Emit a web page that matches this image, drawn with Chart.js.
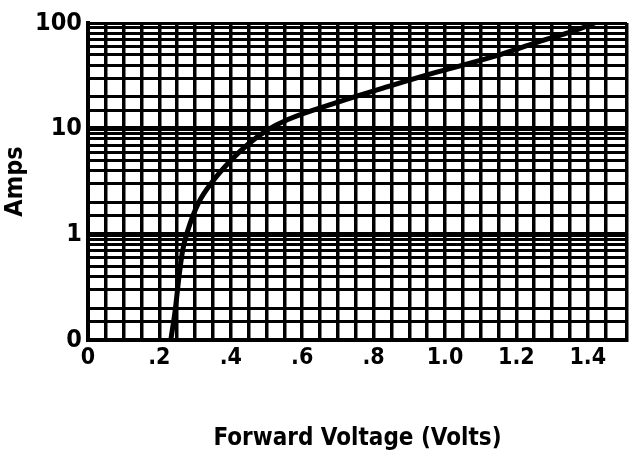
<!DOCTYPE html>
<html>
<head>
<meta charset="utf-8">
<script src="https://cdn.jsdelivr.net/npm/chart.js@4"></script>
<style>
  html, body { margin: 0; padding: 0; background: #fff; }
  #wrap { width: 631px; height: 455px; }
</style>
</head>
<body>
<div id="wrap"><canvas id="diodeChart" width="631" height="455"></canvas></div>
<script>
'use strict'

//++++++++++++++ Data ++++++++++++++//
let voltValues = [0.232, 0.245, 0.255, 0.265, 0.28, 0.31, 0.35, 0.40, 0.45, 0.50, 0.56, 0.70, 0.84, 0.96, 1.14, 1.26, 1.36, 1.42];
let ampValues = [0.1, 0.2, 0.4, 0.7, 1.1, 2.0, 3.2, 5.0, 7.2, 9.6, 12.2, 17.8, 25, 33, 48.6, 66, 84, 100];

let xLabelValues = [0, 0.2, 0.4, 0.6, 0.8, 1.0, 1.2, 1.4];
let xLabelTexts = ['0', '.2', '.4', '.6', '.8', '1.0', '1.2', '1.4'];

let yLabelValues = [0.1, 1, 10, 100];
let yLabelTexts = ['0', '1', '10', '100'];
let yGridSteps = [1, 1.5, 2, 3, 4, 5, 6, 7, 8, 9];

let fontStack = "'Liberation Sans Narrow', 'DejaVu Sans Condensed', 'Liberation Sans', sans-serif";

//++++++++++++++ Helpers ++++++++++++++//
function labelFor(values, texts, v) {
  for (let i = 0; i < values.length; i++) {
    if (Math.abs(values[i] - v) < 1e-6) return texts[i];
  }
  return '';
}

function buildYTicks() {
  let ticks = [];
  [0.1, 1, 10].forEach(decade => {
    yGridSteps.forEach(s => ticks.push({ value: +(decade * s).toPrecision(4) }));
  });
  ticks.push({ value: 100 });
  return ticks;
}

let points = voltValues.map((v, i) => ({ x: v, y: ampValues[i] }));

//++++++++++++++ Chart ++++++++++++++//
const ctx = document.getElementById('diodeChart').getContext('2d');
const diodeChart = new Chart(ctx, {
  type: 'line',
  data: {
    datasets: [{
      data: points,
      borderColor: '#000',
      borderWidth: 5,
      pointRadius: 0,
      cubicInterpolationMode: 'monotone',
      fill: false
    }]
  },
  options: {
    responsive: false,
    animation: false,
    layout: { padding: { top: 23, right: 0, left: 0, bottom: 0 } },
    plugins: { legend: { display: false }, tooltip: { enabled: false } },
    scales: {
      x: {
        type: 'linear',
        min: 0,
        max: 1.51,
        afterFit: scale => { scale.height = 115; },
        ticks: {
          stepSize: 0.05,
          autoSkip: false,
          maxRotation: 0,
          padding: 4,
          color: '#000',
          font: { family: fontStack, size: 23, weight: 'bold' },
          callback: value => labelFor(xLabelValues, xLabelTexts, value)
        },
        grid: { color: '#000', lineWidth: 3.5, drawTicks: false },
        border: { color: '#000', width: 4 },
        title: {
          display: true,
          text: 'Forward Voltage (Volts)',
          color: '#000',
          font: { family: fontStack, size: 24, weight: 'bold' },
          padding: { top: 0, bottom: 2 }
        }
      },
      y: {
        type: 'logarithmic',
        min: 0.1,
        max: 100,
        afterFit: scale => { scale.width = 88; },
        afterBuildTicks: scale => { scale.ticks = buildYTicks(); },
        ticks: {
          autoSkip: false,
          padding: 6,
          color: '#000',
          font: { family: fontStack, size: 25, weight: 'bold' },
          callback: value => labelFor(yLabelValues, yLabelTexts, value)
        },
        grid: {
          color: '#000',
          drawTicks: false,
          lineWidth: c => {
            let v = c.tick ? c.tick.value : 0;
            return (Math.abs(v - 1) < 1e-6 || Math.abs(v - 10) < 1e-6) ? 5 : 3;
          }
        },
        border: { color: '#000', width: 4 },
        title: {
          display: true,
          text: 'Amps',
          color: '#000',
          font: { family: fontStack, size: 25, weight: 'bold' },
          padding: { top: 0, bottom: 4 }
        }
      }
    }
  }
});
</script>
</body>
</html>
